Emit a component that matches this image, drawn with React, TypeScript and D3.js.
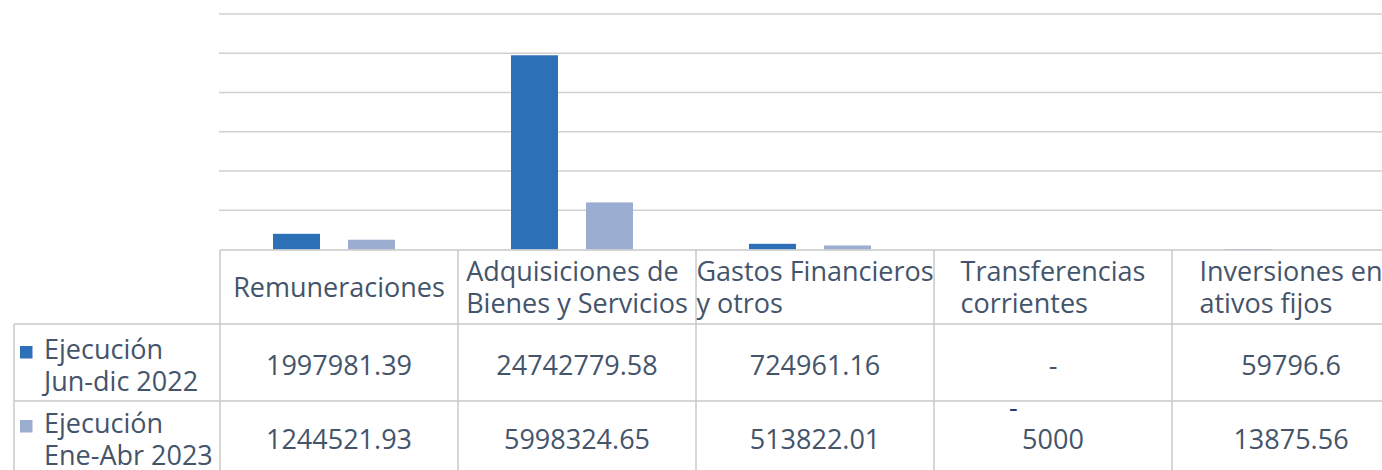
// Ejecución presupuestaria — bar chart with an Excel-style data table underneath.

import { useEffect, useRef } from "react";
import * as d3 from "d3";

const WIDTH = 1382;
const HEIGHT = 470;
const FONT = "'Open Sans', sans-serif";
const TEXT = "#44546a";
const GRID = "#d0d0d0";
const BORDER = "#c8c8c8";

const categories = [
  "Remuneraciones",
  "Adquisiciones de\nBienes y Servicios",
  "Gastos Financieros\ny otros",
  "Transferencias\ncorrientes",
  "Inversiones en\nativos fijos",
];
const seriesNames = ["Ejecución\nJun-dic 2022", "Ejecución\nEne-Abr 2023"];
const seriesColors = ["#2c70b8", "#9badd0"];
const values2022 = [1997981.39, 24742779.58, 724961.16, 0, 59796.6];
const values2023 = [1244521.93, 5998324.65, 513822.01, -5000, 13875.56];
const labels2022 = ["1997981.39", "24742779.58", "724961.16", "-", "59796.6"];
const labels2023 = ["1244521.93", "5998324.65", "513822.01", "-5000", "13875.56"];
const yTicks = [0, 5e6, 10e6, 15e6, 20e6, 25e6, 30e6];

const PLOT = { left: 219, top: 14, bottom: 249.5 };
const TABLE = { left: 14, colStart: 220, colW: 238, headerTop: 250, headerH: 74, rowH: [77, 71] };

export default function App() {
  const svgRef = useRef<SVGSVGElement>(null);

  useEffect(() => {
    if (!svgRef.current) return;
    const svg = d3.select(svgRef.current);
    svg.selectAll("*").remove();

    const x = d3.scaleBand<string>()
      .domain(categories)
      .range([TABLE.colStart, TABLE.colStart + TABLE.colW * categories.length]);
    const bw = x.bandwidth();
    const xs = d3.scaleBand<string>()
      .domain(seriesNames)
      .range([bw / 2 - 66, bw / 2 + 56])
      .paddingInner(0.3733);
    const y = d3.scaleLinear().domain([0, 30e6]).range([PLOT.bottom, PLOT.top]);

    // gridlines
    svg.append("g")
      .selectAll("line")
      .data(yTicks.slice(1))
      .join("line")
      .attr("x1", PLOT.left)
      .attr("x2", WIDTH)
      .attr("y1", (d) => y(d))
      .attr("y2", (d) => y(d))
      .attr("stroke", GRID)
      .attr("stroke-width", 1.5);

    // bars
    const series = [values2022, values2023];
    series.forEach((vals, si) => {
      svg.append("g")
        .selectAll("rect")
        .data(vals)
        .join("rect")
        .attr("x", (_, i) => x(categories[i])! + xs(seriesNames[si])!)
        .attr("width", xs.bandwidth())
        .attr("y", (d) => Math.min(y(d), y(0)))
        .attr("height", (d) => Math.abs(y(0) - y(d)))
        .attr("fill", seriesColors[si]);
    });

    // table lines
    const rowTops = [
      TABLE.headerTop + TABLE.headerH,
      TABLE.headerTop + TABLE.headerH + TABLE.rowH[0],
    ];
    const bottom = rowTops[1] + TABLE.rowH[1];
    const lines = svg.append("g").attr("stroke", BORDER).attr("stroke-width", 1.5);
    lines.append("line")
      .attr("x1", TABLE.colStart).attr("x2", WIDTH)
      .attr("y1", TABLE.headerTop).attr("y2", TABLE.headerTop);
    rowTops.forEach((t) => {
      lines.append("line")
        .attr("x1", TABLE.left).attr("x2", WIDTH)
        .attr("y1", t).attr("y2", t);
    });
    lines.append("line")
      .attr("x1", TABLE.left).attr("x2", TABLE.left)
      .attr("y1", rowTops[0]).attr("y2", bottom);
    categories.forEach((c) => {
      lines.append("line")
        .attr("x1", x(c)!).attr("x2", x(c)!)
        .attr("y1", TABLE.headerTop).attr("y2", bottom);
    });

    const txt = svg.append("g")
      .attr("font-family", FONT)
      .attr("font-size", 27)
      .attr("fill", TEXT);

    // multi-line block, lines left-aligned, block centered on cx
    const block = (lab: string, cx: number, midBase: number) => {
      const parts = lab.split("\n");
      const t = txt.append("text");
      parts.forEach((p, i) => {
        t.append("tspan")
          .attr("x", 0)
          .attr("y", midBase + (i - (parts.length - 1) / 2) * 32)
          .text(p);
      });
      const w = (t.node() as SVGTextElement).getBBox().width;
      t.attr("transform", `translate(${cx - w / 2},0)`);
    };

    // header
    const headMid = TABLE.headerTop + TABLE.headerH / 2;
    categories.forEach((c) => block(c, x(c)! + bw / 2, headMid + 10));

    // rows
    const rowLabels = [labels2022, labels2023];
    rowLabels.forEach((labs, ri) => {
      const mid = rowTops[ri] + TABLE.rowH[ri] / 2;
      labs.forEach((lab, i) => {
        const cx = x(categories[i])! + bw / 2;
        if (lab.length > 1 && lab.startsWith("-")) {
          txt.append("text")
            .attr("x", cx - 44)
            .attr("y", mid - 20)
            .attr("fill", "#1f3b70")
            .text("-");
          txt.append("text")
            .attr("x", cx)
            .attr("y", mid + 12)
            .attr("text-anchor", "middle")
            .text(lab.slice(1));
        } else {
          txt.append("text")
            .attr("x", cx)
            .attr("y", mid + 12)
            .attr("text-anchor", "middle")
            .text(lab);
        }
      });

      // legend cell
      const names = seriesNames[ri].split("\n");
      names.forEach((n, li) => {
        txt.append("text")
          .attr("x", 44)
          .attr("y", mid + 12 + (li - 0.5) * 32)
          .text(n);
      });
      svg.append("rect")
        .attr("x", 20)
        .attr("y", mid + 12 - 16 - 12.5)
        .attr("width", 12.5)
        .attr("height", 12.5)
        .attr("fill", seriesColors[ri]);
    });
  }, []);

  return (
    <svg
      ref={svgRef}
      width={WIDTH}
      height={HEIGHT}
      style={{ position: "absolute", left: 0, top: 0, background: "#fff" }}
    />
  );
}
